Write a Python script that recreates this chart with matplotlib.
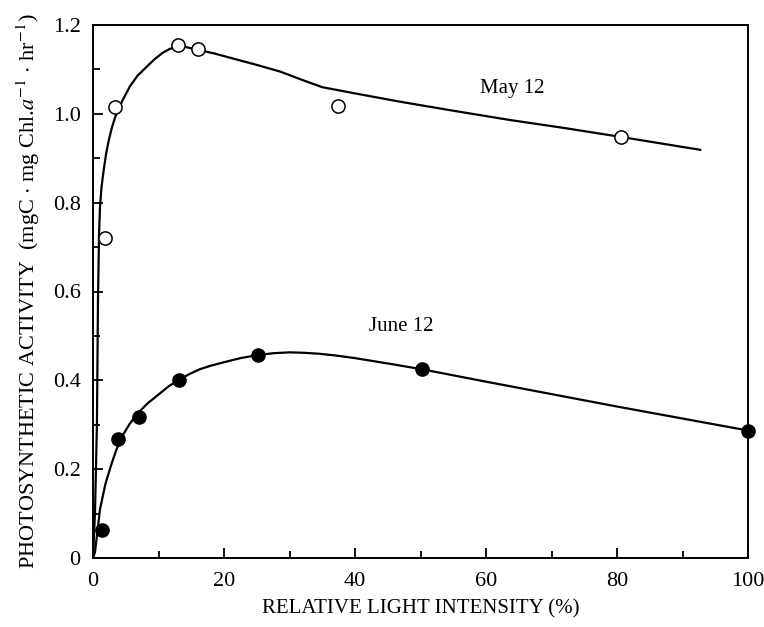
import matplotlib.pyplot as plt
import numpy as np

may_x = [1.8, 3.4, 13.0, 16.0, 37.4, 80.6]
may_y = [0.721, 1.016, 1.155, 1.146, 1.018, 0.948]

june_x = [1.4, 3.8, 7.0, 13.1, 25.2, 50.2, 100.0]
june_y = [0.063, 0.268, 0.318, 0.401, 0.457, 0.425, 0.287]

# Hand-drawn fitted curves
may_curve_x = [0, 0.3, 0.6, 0.76, 0.92, 1.07, 1.3, 1.6, 2.0, 2.4, 2.9, 3.4, 4.5, 5.6,
               6.8, 8.2, 9.4, 10.6, 11.7, 12.7, 14.3, 16.0, 18.5, 21.0, 24.8, 28.6,
               32.0, 35.0, 40.0, 47.0, 55.0, 63.7, 72.0, 80.6, 92.7]
may_curve_y = [0, 0.10, 0.30, 0.58, 0.73, 0.79, 0.835, 0.87, 0.91, 0.94, 0.97, 0.993,
               1.03, 1.061, 1.086, 1.106, 1.123, 1.137, 1.146, 1.151, 1.150, 1.144,
               1.136, 1.126, 1.111, 1.095, 1.076, 1.060, 1.046, 1.027, 1.007, 0.986,
               0.968, 0.948, 0.919]

june_curve_x = [0, 0.3, 0.6, 1.07, 1.9, 2.85, 3.6, 4.4, 5.6, 6.9, 8.4, 10.0, 11.5,
                13.1, 14.7, 16.3, 18.0, 19.8, 22.5, 25.2, 27.5, 30.0, 32.2, 34.4,
                37.0, 40.0, 45.0, 50.2, 60.0, 70.0, 80.0, 90.0, 100.0]
june_curve_y = [0, 0.013, 0.05, 0.110, 0.167, 0.213, 0.245, 0.273, 0.302, 0.327,
                0.349, 0.368, 0.386, 0.401, 0.414, 0.425, 0.433, 0.440, 0.450, 0.457,
                0.461, 0.463, 0.462, 0.460, 0.456, 0.450, 0.438, 0.425, 0.397, 0.369,
                0.341, 0.314, 0.287]

x_ticks = [0, 20, 40, 60, 80, 100]
y_ticks = [0, 0.2, 0.4, 0.6, 0.8, 1.0, 1.2]
y_tick_labels = ["0", "0.2", "0.4", "0.6", "0.8", "1.0", "1.2"]

plt.rcParams['font.family'] = ['Liberation Serif', 'DejaVu Serif']
plt.rcParams['mathtext.fontset'] = 'stix'

fig = plt.figure(figsize=(7.64, 6.27), dpi=100)
ax = fig.add_axes([93 / 764, 1 - 558 / 627, (748 - 93) / 764, (558 - 25) / 627])

# curves
ax.plot(may_curve_x, may_curve_y, color='black', lw=1.6, zorder=2)
ax.plot(june_curve_x, june_curve_y, color='black', lw=1.6, zorder=2)

# data points
ax.plot(may_x, may_y, 'o', ms=9.5, mfc='white', mec='black', mew=1.1, zorder=3,
        clip_on=False)
ax.plot(june_x, june_y, 'o', ms=9.5, mfc='black', mec='black', mew=1.0, zorder=3,
        clip_on=False)

ax.text(64, 1.058, "May 12", fontsize=15, ha='center', va='center')
ax.text(47, 0.522, "June 12", fontsize=15, ha='center', va='center')

ax.set_xlim(0, 100)
ax.set_ylim(0, 1.2)
ax.set_xticks(x_ticks)
ax.set_xticks(np.arange(10, 100, 20), minor=True)
ax.set_yticks(y_ticks)
ax.set_yticklabels(y_tick_labels)
ax.set_yticks(np.arange(0.1, 1.2, 0.2), minor=True)

ax.tick_params(which='both', direction='in', top=False, right=False,
               labelsize=16, width=1.3)
ax.tick_params(which='major', length=7)
ax.tick_params(axis='x', which='major', pad=10)
ax.tick_params(axis='y', which='major', pad=9)
ax.tick_params(which='minor', length=5)

for sp in ax.spines.values():
    sp.set_linewidth(1.4)

ax.set_xlabel("RELATIVE LIGHT INTENSITY (%)", fontsize=15, labelpad=6)
ax.set_ylabel(r"PHOTOSYNTHETIC ACTIVITY  (mgC $\cdot$ mg Chl.$a^{-1}$ $\cdot$ hr$^{-1}$)",
              fontsize=16, labelpad=8)

fig.savefig("out.png", dpi=100)
